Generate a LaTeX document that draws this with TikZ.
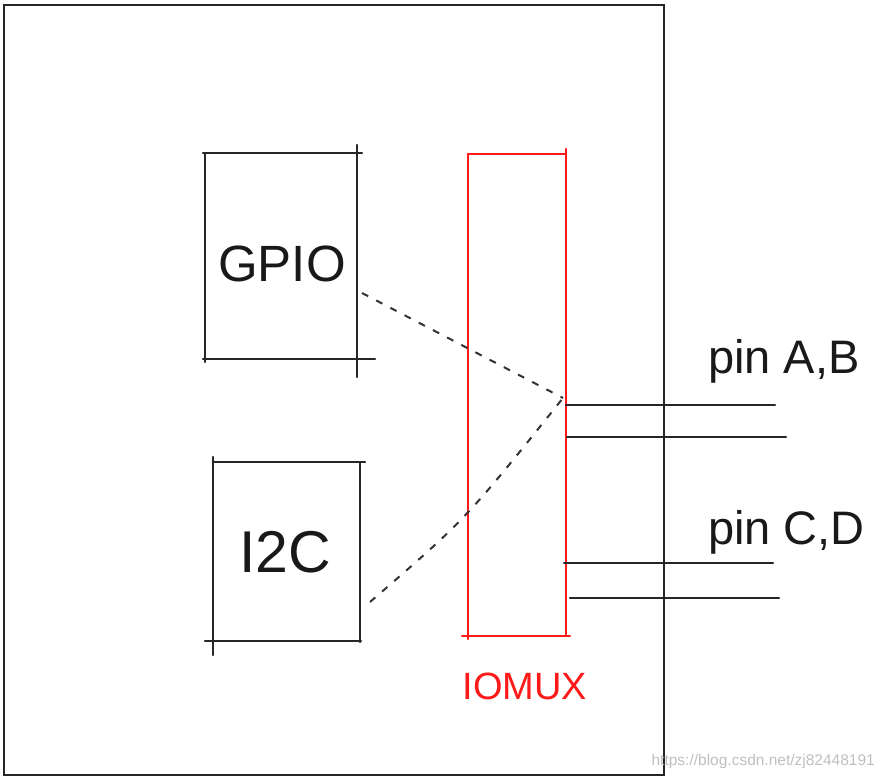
\documentclass[tikz,border=0pt]{standalone}
\usepackage{fontspec}
\setmainfont{Liberation Sans}
\begin{document}
\begin{tikzpicture}[x=1pt,y=-1pt,
  sk/.style={line width=2.3pt,line cap=round,black!85},
  muxline/.style={line width=2.3pt,line cap=round,red!90},
  dsh/.style={line width=2pt,black!80,dash pattern=on 7pt off 9pt},
  lbl/.style={inner sep=0pt,black!90},
  box/.style={inner sep=0pt,anchor=north west}]
\useasboundingbox (0,0) rectangle (877,779);
% outer chip
\node[box,draw,sk,minimum width=660pt,minimum height=770pt] (chip) at (2.5,4) {};
% GPIO block
\node[box,minimum width=152pt,minimum height=206pt] (gpio) at (205,153) {};
\draw[sk] (203,153) -- (362,153);
\draw[sk] (357,145) -- (357,377);
\draw[sk] (203,359) -- (375,359);
\draw[sk] (205,153) -- (205,362);
\node[lbl,font=\fontsize{51}{51}\selectfont] (gpiotxt) at (282,264) {GPIO};
% I2C block
\node[box,minimum width=147pt,minimum height=179pt] (i2c) at (213,462) {};
\draw[sk] (213,462) -- (365,462);
\draw[sk] (360,462) -- (360,642);
\draw[sk] (205,641) -- (361,641);
\draw[sk] (213,457) -- (213,655);
\node[lbl,font=\fontsize{59}{59}\selectfont] (i2ctxt) at (285,552) {I2C};
% IOMUX
\node[box,minimum width=98pt,minimum height=482pt] (mux) at (468,154) {};
\draw[muxline] (468,154) -- (566,154);
\draw[muxline] (566,149) -- (566,636);
\draw[muxline] (462,636) -- (570,636);
\draw[muxline] (468,154) -- (468,639);
\node[lbl,red!90,font=\fontsize{38}{38}\selectfont] (muxtxt) at (525,686) {IOMUX};
% dashed mux connections
\coordinate (gpioout) at (362,293);
\coordinate (i2cout) at (370,602);
\coordinate (muxpt) at (563,398);
\draw[dsh] (gpioout) -- (muxpt);
\draw[dsh] (i2cout) .. controls (466,519) .. (muxpt);
% pins
\coordinate (p1a) at (566,405); \coordinate (p1b) at (775,405);
\coordinate (p2a) at (567,437); \coordinate (p2b) at (786,437);
\coordinate (p3a) at (564,563); \coordinate (p3b) at (773,563);
\coordinate (p4a) at (570,598); \coordinate (p4b) at (779,598);
\draw[sk] (p1a) -- (p1b);
\draw[sk] (p2a) -- (p2b);
\draw[sk] (p3a) -- (p3b);
\draw[sk] (p4a) -- (p4b);
\node[lbl,anchor=base west,font=\fontsize{47}{47}\selectfont] (pinab) at (708,373) {pin A,B};
\node[lbl,anchor=base west,font=\fontsize{47}{47}\selectfont] (pincd) at (708,544) {pin C,D};
% watermark
\node[inner sep=0pt,anchor=east,black!25,font=\fontsize{15.5}{15.5}\selectfont] (wm) at (875,761) {https://blog.csdn.net/zj82448191};
\end{tikzpicture}
\end{document}
